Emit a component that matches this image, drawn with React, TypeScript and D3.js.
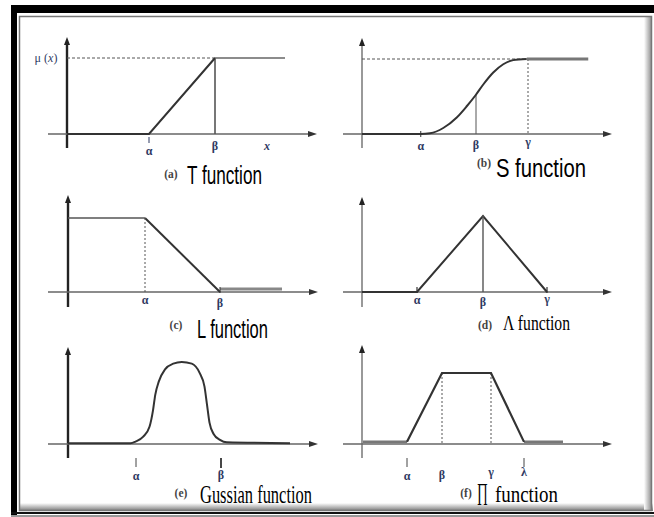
import React from "react";
import * as d3 from "d3";

const W = 654;
const H = 517;

// Membership functions: x in axis units (0..100 along each plot), y as membership grade.
const tCurve: [number, number][] = [[0, 0], [32.8, 0], [59.2, 1], [87.2, 1]];
const tBreaks = { alpha: 32.8, beta: 59.2, x: 80 };

const sCurve: [number, number][] = [
  [0, 0], [23.5, 0], [27.2, 0.01], [32.5, 0.08], [37.9, 0.22], [41.9, 0.37],
  [45.5, 0.52], [48.5, 0.66], [52.5, 0.82], [56.5, 0.93], [60.5, 0.985], [65.9, 1],
];
const sTail: [number, number][] = [[65.9, 1], [90.5, 1]];
const sBreaks = { alpha: 23.5, beta: 45.6, gamma: 66.4, betaGrade: 0.52 };

const lCurve: [number, number][] = [[0, 1], [30.8, 1], [60.8, 0]];
const lTail: [number, number][] = [[60.8, 0.04], [85.6, 0.04]];
const lBreaks = { alpha: 30.8, beta: 60.8 };

const triCurve: [number, number][] = [[0, 0], [22, 0], [48.4, 1], [74, 0]];
const triBreaks = { alpha: 22, beta: 48.4, gamma: 74 };

const bellCurve: [number, number][] = [
  [0, 0.01], [25, 0.01], [27, 0.03], [30.1, 0.09], [32.6, 0.21], [34.0, 0.41],
  [34.9, 0.6], [36.3, 0.76], [38.8, 0.91], [42.1, 0.98], [45.5, 1], [49.5, 0.98],
  [52.6, 0.87], [54.6, 0.7], [55.6, 0.48], [56.6, 0.26], [58.3, 0.12], [60.8, 0.05],
  [63.5, 0.02], [88.8, 0.01],
];
const bellBreaks = { alpha: 27.2, beta: 61.2 };

const piCurve: [number, number][] = [[18, 0.03], [32, 1], [51.6, 1], [64.8, 0.03]];
const piTails: [number, number][][] = [[[0.4, 0.03], [18, 0.03]], [[64.8, 0.03], [80.4, 0.03]]];
const piBreaks = { alpha: 18, beta: 32, gamma: 51.6, lambda: 64.8 };

const captionTags = ["(a)", "(b)", "(c)", "(d)", "(e)", "(f)"];
const captionNames = ["T function", "S function", "L function", "Λ function", "Gussian function", "function"];

const LABEL = "#2f3a63";
const CURVE = "#333";
const SERIF = "'Liberation Serif', 'DejaVu Serif', serif";
const NARROW = "'Liberation Sans Narrow', 'Liberation Sans', Arial, sans-serif";

type Geo = { ox: number; oy: number; top: number; yTip: number; yBottom: number; xStart: number; heavyY: boolean };

function scales(g: Geo) {
  const x = d3.scaleLinear().domain([0, 100]).range([g.ox, g.ox + 250]);
  const y = d3.scaleLinear().domain([0, 1]).range([g.oy, g.top]);
  return { x, y };
}

function Axes({ g }: { g: Geo }) {
  const xTip = g.ox + 250;
  const yw = g.heavyY ? 2.4 : 1.2;
  const yc = g.heavyY ? "#222" : "#555";
  return (
    <g>
      <line x1={g.ox} x2={g.ox} y1={g.yBottom} y2={g.yTip + 6} stroke={yc} strokeWidth={yw} />
      <polygon points={`${g.ox},${g.yTip} ${g.ox - 3},${g.yTip + 8} ${g.ox + 3},${g.yTip + 8}`} fill="#222" />
      <line x1={g.xStart} x2={xTip - 6} y1={g.oy} y2={g.oy} stroke="#666" strokeWidth={1.3} />
      <polygon points={`${xTip},${g.oy} ${xTip - 9},${g.oy - 3} ${xTip - 9},${g.oy + 3}`} fill="#333" />
    </g>
  );
}

function Label({ x, y, text, italic }: { x: number; y: number; text: string; italic?: boolean }) {
  return (
    <text x={x} y={y} textAnchor="middle" fontFamily={SERIF} fontSize={12} fontWeight="bold"
      fontStyle={italic ? "italic" : "normal"} fill={LABEL}>{text}</text>
  );
}

export default function App() {
  const gA: Geo = { ox: 67, oy: 134, top: 58, yTip: 37, yBottom: 148, xStart: 48, heavyY: true };
  const gB: Geo = { ox: 362, oy: 134, top: 59, yTip: 38, yBottom: 148, xStart: 343, heavyY: false };
  const gC: Geo = { ox: 68, oy: 292, top: 218, yTip: 195, yBottom: 307, xStart: 48, heavyY: true };
  const gD: Geo = { ox: 362, oy: 292, top: 216, yTip: 197, yBottom: 307, xStart: 343, heavyY: false };
  const gE: Geo = { ox: 68, oy: 444, top: 362, yTip: 347, yBottom: 458, xStart: 48, heavyY: true };
  const gF: Geo = { ox: 362, oy: 444, top: 373, yTip: 345, yBottom: 458, xStart: 343, heavyY: false };

  const a = scales(gA), b = scales(gB), c = scales(gC), d = scales(gD), e = scales(gE), f = scales(gF);
  const path = (s: { x: any; y: any }, pts: [number, number][], curve?: any) => {
    const gen = d3.line<[number, number]>().x((p) => s.x(p[0])).y((p) => s.y(p[1]));
    if (curve) gen.curve(curve);
    return gen(pts) || "";
  };

  return (
    <svg width={W} height={H} style={{ position: "absolute", left: 0, top: 0, background: "#fff" }}>
      <defs>
        <linearGradient id="shadeB" x1="0" y1="0" x2="0" y2="1">
          <stop offset="0" stopColor="#fff" />
          <stop offset="1" stopColor="#777" />
        </linearGradient>
        <linearGradient id="shadeR" x1="0" y1="0" x2="1" y2="0">
          <stop offset="0" stopColor="#fff" />
          <stop offset="1" stopColor="#888" />
        </linearGradient>
      </defs>

      {/* page frame */}
      <rect x={0} y={0} width={W} height={H} fill="#fff" />
      <rect x={11} y={5} width={643} height={8} fill="#000" />
      <rect x={11} y={5} width={6} height={512} fill="#000" />
      <rect x={20} y={503} width={633} height={8} fill="url(#shadeB)" />
      <rect x={644} y={17} width={8} height={494} fill="url(#shadeR)" />
      <rect x={19.5} y={16.5} width={632} height={494} fill="none" stroke="#777" strokeWidth={1.5} />
      <rect x={11} y={512} width={643} height={2} fill="#111" />
      <rect x={11} y={515} width={643} height={2} fill="#999" />

      {/* (a) T function */}
      <Axes g={gA} />
      <line x1={gA.ox} x2={a.x(tBreaks.beta)} y1={a.y(1)} y2={a.y(1)} stroke="#555" strokeWidth={1} strokeDasharray="3,2" />
      <line x1={a.x(tBreaks.beta)} x2={a.x(tBreaks.beta)} y1={a.y(1)} y2={a.y(0)} stroke="#555" strokeWidth={1.6} />
      <path d={path(a, tCurve.slice(0, 3))} fill="none" stroke={CURVE} strokeWidth={2} />
      <path d={path(a, tCurve.slice(2))} fill="none" stroke="#666" strokeWidth={1.6} />
      <line x1={a.x(tBreaks.alpha)} x2={a.x(tBreaks.alpha)} y1={137} y2={143} stroke={LABEL} strokeWidth={1} />
      <Label x={a.x(tBreaks.alpha)} y={155} text="α" />
      <Label x={a.x(tBreaks.beta)} y={150} text="β" />
      <Label x={a.x(tBreaks.x)} y={150} text="x" italic />
      <text x={46} y={62} textAnchor="middle" fontFamily={SERIF} fontSize={12} fill={LABEL}>μ (<tspan fontStyle="italic">x</tspan>)</text>

      {/* (b) S function */}
      <Axes g={gB} />
      <line x1={gB.ox} x2={b.x(sBreaks.gamma)} y1={b.y(1)} y2={b.y(1)} stroke="#555" strokeWidth={1} strokeDasharray="3,2" />
      <line x1={b.x(sBreaks.gamma)} x2={b.x(sBreaks.gamma)} y1={b.y(1)} y2={b.y(0)} stroke="#555" strokeWidth={1} strokeDasharray="2,2" />
      <line x1={b.x(sBreaks.beta)} x2={b.x(sBreaks.beta)} y1={b.y(sBreaks.betaGrade)} y2={b.y(0)} stroke="#555" strokeWidth={1} />
      <path d={path(b, sCurve, d3.curveMonotoneX)} fill="none" stroke={CURVE} strokeWidth={2} />
      <path d={path(b, sTail)} fill="none" stroke="#777" strokeWidth={3} />
      <line x1={b.x(sBreaks.alpha)} x2={b.x(sBreaks.alpha)} y1={131} y2={137} stroke="#333" strokeWidth={1} />
      <Label x={b.x(sBreaks.alpha)} y={150} text="α" />
      <Label x={b.x(sBreaks.beta)} y={149} text="β" />
      <Label x={b.x(sBreaks.gamma)} y={146} text="γ" />

      {/* (c) L function */}
      <Axes g={gC} />
      <path d={path(c, lCurve.slice(0, 2))} fill="none" stroke="#555" strokeWidth={1.6} />
      <path d={path(c, lCurve.slice(1))} fill="none" stroke={CURVE} strokeWidth={2} />
      <line x1={c.x(lBreaks.alpha)} x2={c.x(lBreaks.alpha)} y1={c.y(1)} y2={c.y(0)} stroke="#555" strokeWidth={1} strokeDasharray="2,2" />
      <path d={path(c, lTail)} fill="none" stroke="#888" strokeWidth={3} />
      <line x1={c.x(lBreaks.beta)} x2={c.x(lBreaks.beta)} y1={287} y2={293} stroke="#333" strokeWidth={1} />
      <Label x={c.x(lBreaks.alpha)} y={304} text="α" />
      <Label x={c.x(lBreaks.beta)} y={307} text="β" />

      {/* (d) triangular function */}
      <Axes g={gD} />
      <path d={path(d, triCurve)} fill="none" stroke={CURVE} strokeWidth={2} />
      <line x1={d.x(triBreaks.beta)} x2={d.x(triBreaks.beta)} y1={d.y(1)} y2={d.y(0)} stroke="#555" strokeWidth={1.4} />
      <line x1={d.x(triBreaks.alpha)} x2={d.x(triBreaks.alpha)} y1={287} y2={293} stroke="#333" strokeWidth={1.2} />
      <line x1={d.x(triBreaks.gamma)} x2={d.x(triBreaks.gamma)} y1={287} y2={293} stroke="#333" strokeWidth={1.2} />
      <Label x={d.x(triBreaks.alpha)} y={304} text="α" />
      <Label x={d.x(triBreaks.beta)} y={306} text="β" />
      <Label x={d.x(triBreaks.gamma)} y={303} text="γ" />

      {/* (e) Gaussian function */}
      <Axes g={gE} />
      <path d={path(e, bellCurve, d3.curveMonotoneX)} fill="none" stroke={CURVE} strokeWidth={2} />
      <line x1={e.x(bellBreaks.alpha)} x2={e.x(bellBreaks.alpha)} y1={458} y2={467} stroke="#444" strokeWidth={1} />
      <line x1={e.x(bellBreaks.beta)} x2={e.x(bellBreaks.beta)} y1={458} y2={468} stroke="#333" strokeWidth={1.8} />
      <Label x={e.x(bellBreaks.alpha)} y={480} text="α" />
      <Label x={e.x(bellBreaks.beta)} y={479} text="β" />

      {/* (f) trapezoidal function */}
      <Axes g={gF} />
      {piTails.map((t, i) => (
        <path key={i} d={path(f, t)} fill="none" stroke="#777" strokeWidth={2.6} />
      ))}
      <line x1={f.x(piBreaks.beta)} x2={f.x(piBreaks.beta)} y1={f.y(1)} y2={f.y(0)} stroke="#555" strokeWidth={1} strokeDasharray="2,2" />
      <line x1={f.x(piBreaks.gamma)} x2={f.x(piBreaks.gamma)} y1={f.y(1)} y2={f.y(0)} stroke="#555" strokeWidth={1} strokeDasharray="2,2" />
      <path d={path(f, piCurve)} fill="none" stroke={CURVE} strokeWidth={2.2} />
      <line x1={f.x(piBreaks.alpha)} x2={f.x(piBreaks.alpha)} y1={458} y2={467} stroke="#444" strokeWidth={1} />
      <line x1={f.x(piBreaks.lambda)} x2={f.x(piBreaks.lambda)} y1={458} y2={467} stroke="#444" strokeWidth={1} />
      <Label x={f.x(piBreaks.alpha)} y={480} text="α" />
      <Label x={f.x(piBreaks.beta)} y={479} text="β" />
      <Label x={f.x(piBreaks.gamma)} y={476} text="γ" />
      <Label x={f.x(piBreaks.lambda)} y={476} text="λ" />

      {/* captions */}
      <g fontFamily={SERIF} fontSize={11.5} fontWeight="bold" fill="#444">
        <text x={171} y={178} textAnchor="middle">{captionTags[0]}</text>
        <text x={484} y={167} textAnchor="middle">{captionTags[1]}</text>
        <text x={176} y={329} textAnchor="middle">{captionTags[2]}</text>
        <text x={485} y={329} textAnchor="middle">{captionTags[3]}</text>
        <text x={181} y={497} textAnchor="middle">{captionTags[4]}</text>
        <text x={466} y={497} textAnchor="middle">{captionTags[5]}</text>
      </g>
      <g fontFamily={NARROW} fill="#000">
        <text x={187} y={184} fontSize={26} textLength={75} lengthAdjust="spacingAndGlyphs">{captionNames[0]}</text>
        <text x={496} y={177} fontSize={25} textLength={90} lengthAdjust="spacingAndGlyphs">{captionNames[1]}</text>
        <text x={197} y={338} fontSize={26} textLength={71} lengthAdjust="spacingAndGlyphs">{captionNames[2]}</text>
      </g>
      <g fontFamily={SERIF} fill="#000">
        <text x={503} y={330} fontSize={22} textLength={67} lengthAdjust="spacingAndGlyphs">{captionNames[3]}</text>
        <text x={200} y={503} fontSize={25} textLength={112} lengthAdjust="spacingAndGlyphs">{captionNames[4]}</text>
        <text x={477} y={500} fontSize={24} textLength={11} lengthAdjust="spacingAndGlyphs">∏</text>
        <text x={495} y={502} fontSize={24} textLength={63} lengthAdjust="spacingAndGlyphs">{captionNames[5]}</text>
      </g>
    </svg>
  );
}
